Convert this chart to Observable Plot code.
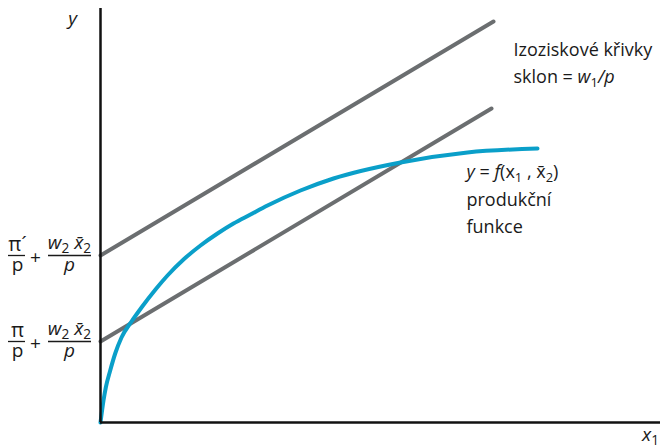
<!DOCTYPE html>
<html><head><meta charset="utf-8">
<script src="https://cdn.jsdelivr.net/npm/d3@7"></script>
<script src="https://cdn.jsdelivr.net/npm/@observablehq/plot@0.6"></script>
<style>
body{margin:0;background:#fff}
svg{font-family:"Open Sans",sans-serif}
</style>
</head><body><div id="chart"></div>
<script>
// production function y = f(x1, x̄2)
const curveX = [0, 3, 5.3, 9.7, 14.7, 21, 31, 41, 55, 67, 83, 100, 117, 133, 150, 167, 200, 233, 300, 367, 437];
const curveY = [0, 22, 35, 52, 69, 85, 101, 115, 133, 147, 163, 177, 189, 199, 208, 217, 232, 244, 260, 270, 274];
// isoprofit lines (end points)
const upperLineX = [0, 393];
const upperLineY = [167, 401];
const lowerLineX = [0, 391];
const lowerLineY = [81, 314];
// texts
const rightLabels = ["Izoziskové křivky", "sklon = w1/p", "y = f(x1 , x̄2)", "produkční", "funkce"];
const rightLabelX = [413, 413, 366, 366, 366];
const rightLabelY = [367, 340, 245, 217, 190];
const axisLabels = ["y", "x1"];
const fracNumerators = ["π´", "π"];
const fracIntercepts = [upperLineY[0], lowerLineY[0]];

const richText = {
  "sklon = w1/p": [["sklon = ", ""], ["w", "i"], ["1", "sub"], ["/p", "i"]],
  "y = f(x1 , x̄2)": [["y", "i"], [" = ", ""], ["f", "i"], ["(x", ""], ["1", "sub"], [" , x̄", ""], ["2", "sub"], [")", ""]],
  "x1": [["x", "i"], ["1", "sub"]],
  "w2 x̄2": [["w", "i"], ["2", "sub"], [" x̄", "i"], ["2", "sub"]],
  "y": [["y", "i"]],
  "p_i": [["p", "i"]]
};

const curve = curveX.map((x, i) => ({x, y: curveY[i]}));
const upper = upperLineX.map((x, i) => ({x, y: upperLineY[i]}));
const lower = lowerLineX.map((x, i) => ({x, y: lowerLineY[i]}));
const right = rightLabels.map((t, i) => ({t, x: rightLabelX[i], y: rightLabelY[i]}));
const fracs = fracIntercepts.map((y, i) => ({y, num: fracNumerators[i]}));

const ink = "#1a1a1a";
const fs = 18;
const ffs = 19;

const chart = Plot.plot({
  width: 660,
  height: 448,
  marginLeft: 100,
  marginRight: 0,
  marginTop: 8,
  marginBottom: 26,
  x: {domain: [0, 560], axis: null},
  y: {domain: [0, 414], axis: null},
  style: {fontFamily: "'Open Sans', sans-serif", overflow: "visible"},
  marks: [
    Plot.line(upper, {x: "x", y: "y", stroke: "#6b6e70", strokeWidth: 4}),
    Plot.line(lower, {x: "x", y: "y", stroke: "#6b6e70", strokeWidth: 4}),
    Plot.line(curve, {x: "x", y: "y", stroke: "#0a9fc9", strokeWidth: 4, curve: "monotone-x"}),
    Plot.ruleX([0], {y1: 0, y2: 414, stroke: "#111", strokeWidth: 2.5}),
    Plot.ruleY([0], {x1: 0, x2: 560, stroke: "#111", strokeWidth: 2.5}),
    Plot.text(right, {x: "x", y: "y", text: "t", textAnchor: "start", lineAnchor: "bottom", fontSize: fs, fill: ink}),
    Plot.text([axisLabels[0]], {x: -28, y: 404, text: d => d, fontSize: fs + 1, fill: ink}),
    Plot.text([axisLabels[1]], {x: 550, y: -12, text: d => d, fontSize: fs + 1, fill: ink}),
    // fractions
    Plot.text(fracs, {x: -83, y: "y", text: "num", lineAnchor: "bottom", dy: -5, fontSize: ffs + 1, fill: ink}),
    Plot.text(fracs, {x: -83, y: "y", text: () => "p", lineAnchor: "bottom", dy: 15, fontSize: ffs, fill: ink}),
    Plot.text(fracs, {x: -65, y: "y", text: () => "+", dy: 2, fontSize: ffs, fill: ink}),
    Plot.text(fracs, {x: -31, y: "y", text: () => "w2 x̄2", lineAnchor: "bottom", dy: -7, fontSize: ffs, fill: ink}),
    Plot.text(fracs, {x: -31, y: "y", text: () => "p_i", lineAnchor: "bottom", dy: 15, fontSize: ffs, fill: ink}),
    Plot.ruleY(fracs, {y: "y", x1: -92, x2: -75, dy: 0, stroke: ink, strokeWidth: 1.3}),
    Plot.ruleY(fracs, {y: "y", x1: -52, x2: -9, dy: 0, stroke: ink, strokeWidth: 1.3})
  ]
});

// enrich texts with italic / subscript spans
d3.select(chart).selectAll("text").each(function() {
  const key = this.textContent;
  const segs = richText[key];
  if (!segs) return;
  const el = d3.select(this);
  el.text(null);
  let lowered = false;
  for (const [s, st] of segs) {
    const ts = el.append("tspan").text(s);
    if (st === "i") ts.attr("font-style", "italic");
    if (st === "sub") {
      ts.attr("font-size", "0.72em").attr("dy", lowered ? null : 4);
      lowered = true;
    } else if (lowered) {
      ts.attr("dy", -4);
      lowered = false;
    }
  }
});

document.getElementById("chart").appendChild(chart);
</script>
</body></html>
